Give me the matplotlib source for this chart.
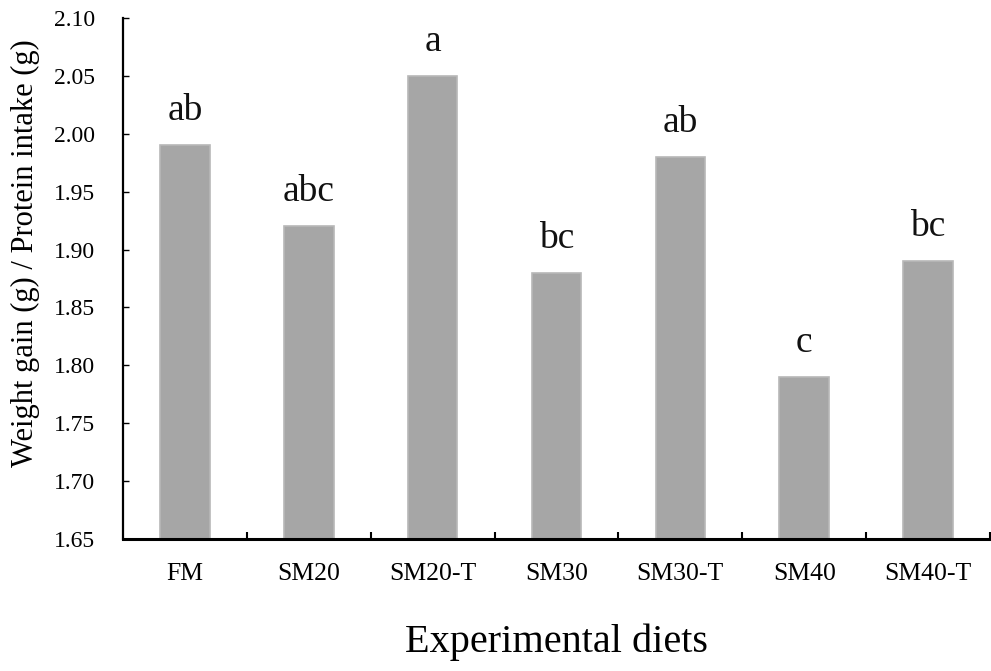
import matplotlib
matplotlib.use("Agg")
import matplotlib.pyplot as plt
from matplotlib.ticker import MultipleLocator, FixedLocator

categories = ["FM", "SM20", "SM20-T", "SM30", "SM30-T", "SM40", "SM40-T"]
values = [1.99, 1.92, 2.05, 1.88, 1.98, 1.79, 1.89]
letters = ["ab", "abc", "a", "bc", "ab", "c", "bc"]

plt.rcParams["font.family"] = ["Liberation Serif", "DejaVu Serif"]

fig = plt.figure(figsize=(9.91, 6.71), dpi=100)
ax = fig.add_axes([123/991, 132/671, 867/991, 521/671])

x = list(range(len(categories)))
ax.bar(x, [v - 1.65 for v in values], bottom=1.65, width=0.40,
       color="#a6a6a6", edgecolor="#b8b8b8", linewidth=1.2, zorder=2)

for xi, v, lab in zip(x, values, letters):
    ax.annotate(lab, (xi, v), xytext=(0, 18), textcoords="offset points",
                ha="center", va="baseline", fontsize=27, color="#111111")

ax.set_xlim(-0.5, 6.5)
ax.set_ylim(1.65, 2.10)
ax.yaxis.set_major_locator(MultipleLocator(0.05))
ax.set_yticklabels([f"{t:.2f}" for t in ax.get_yticks()])
ax.tick_params(axis="y", direction="in", length=4, width=1, labelsize=17, pad=20)

ax.set_xticks(x)
ax.set_xticklabels(categories)
ax.tick_params(axis="x", which="major", length=0, labelsize=18.5, pad=17)
ax.xaxis.set_minor_locator(FixedLocator([i + 0.5 for i in range(len(categories))]))
ax.tick_params(axis="x", which="minor", direction="in", length=5, width=1.5)

for s in ["top", "right"]:
    ax.spines[s].set_visible(False)
ax.spines["left"].set_linewidth(1.6)
ax.spines["bottom"].set_linewidth(2.2)

ax.set_ylabel("Weight gain (g) / Protein intake (g)", fontsize=22)
ax.yaxis.set_label_coords(-0.096, 0.549)
ax.set_xlabel("Experimental diets", fontsize=29, labelpad=28)

fig.savefig("out.png", dpi=100)
